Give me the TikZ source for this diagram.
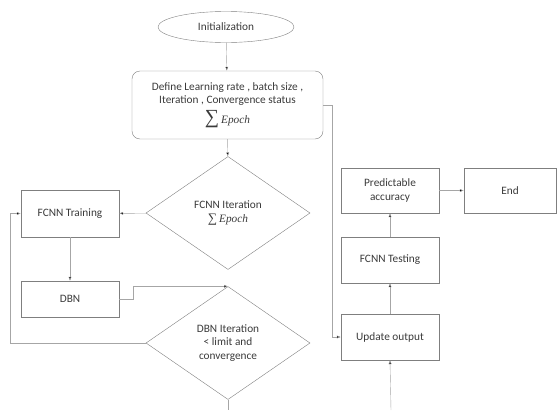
\documentclass[tikz,border=0pt]{standalone}
\usepackage[no-math]{fontspec}
\setmainfont{Carlito}
\newfontfamily\sumfont{Liberation Serif}
\usepackage{tikz}
\usetikzlibrary{arrows.meta,positioning,shapes.geometric}
\usepackage{xcolor}
\definecolor{boxline}{HTML}{7F7F7F}
\definecolor{flowline}{HTML}{A6A6A6}
\definecolor{txt}{HTML}{3A3A3A}
\newcommand{\epochsum}[1]{{\sumfont{\fontsize{#1}{#1}\selectfont ∑}\,\itshape Epoch}}

\begin{document}
\begin{tikzpicture}[
  x=1pt, y=-1pt,
  box/.style={draw=boxline, align=center, minimum width=98pt, font=\fontsize{11.3}{13.5}\selectfont, text=txt, inner sep=2pt},
  decide/.style={draw=boxline, diamond, aspect=1.46, minimum width=164pt, minimum height=113pt, inner sep=0pt, align=center, font=\fontsize{11.3}{13.5}\selectfont, text=txt},
  flow/.style={-{Latex[length=1.4mm, width=1.1mm, fill=black]}, draw=flowline}
]
\useasboundingbox (0,0) rectangle (557,410);
\node[draw=boxline, ellipse, minimum width=136pt, minimum height=31pt, inner sep=0pt, font=\fontsize{11.3}{13.5}\selectfont, text=txt] (init) at (226,27) {Initialization};
\node[box, rounded corners=8pt, minimum width=191pt, minimum height=68pt] (define) at (227.5,105) {Define Learning rate , batch size ,\\ Iteration , Convergence status\\[4pt] \epochsum{20}};
\node[decide] (fiter) at (228,213) {FCNN Iteration\\ \epochsum{13}};
\node[box, minimum height=47pt] (train) at (70,213.5) {FCNN Training};
\node[box, minimum height=36pt] (dbn) at (70,299) {DBN};
\node[decide] (diter) at (228,343) {DBN Iteration\\ {<} limit and\\ convergence};
\node[box, minimum height=46pt] (update) at (390,337) {Update output};
\node[box, minimum height=46pt] (test) at (390,260) {FCNN Testing};
\node[box, minimum height=45pt] (pred) at (390,190.5) {Predictable\\ accuracy};
\node[box, minimum width=92pt, minimum height=45pt] (end) at (510,190.5) {End};
\coordinate (dout) at (228,410);
\coordinate (uin) at (391,410);
\draw[flow] (init) -- (define);
\draw[flow] (define) -- (fiter);
\draw[flow] (define.east) -- ++(9,0) |- (update.west);
\draw[flow] (fiter) -- (train);
\draw[flow] (train) -- (dbn);
\draw[flow] (dbn.east) -- ++(14,0) |- (diter.north);
\draw[flow] (diter.west) -- ++(-136,0) |- (train.west);
\draw[draw=flowline] (diter.south) -- (dout);
\draw[flow] (uin) -- (update.south);
\draw[flow] (update) -- (test);
\draw[flow] (test) -- (pred);
\draw[flow] (pred) -- (end);
\end{tikzpicture}
\end{document}
